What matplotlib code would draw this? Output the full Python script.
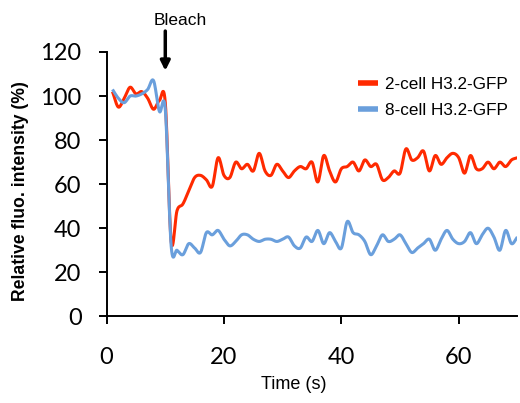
import matplotlib.pyplot as plt
import numpy as np

# FRAP recovery curves, one point per second
time = np.arange(1, 71)
two_cell = [102, 95, 99, 104, 101, 102, 99, 94, 98, 97,
            34, 48, 51, 57, 63, 64, 62, 59, 72, 64,
            63, 70, 67, 69, 66, 74, 66, 64, 69, 66,
            63, 66, 68, 67, 70, 61, 73, 66, 61, 67,
            68, 70, 66, 71, 68, 69, 62, 63, 66, 65,
            76, 71, 72, 75, 66, 73, 69, 72, 74, 72,
            65, 73, 67, 67, 70, 67, 70, 68, 71, 72]
eight_cell = [103, 99, 97, 100, 100, 101, 103, 107, 93, 94,
              32, 30, 28, 33, 31, 29, 38, 37, 39, 35,
              32, 34, 37, 37, 35, 34, 35, 35, 34, 35,
              36, 32, 31, 36, 34, 39, 33, 38, 34, 31,
              43, 38, 37, 34, 28, 32, 37, 34, 35, 37,
              33, 29, 31, 33, 35, 30, 35, 39, 35, 33,
              34, 38, 33, 37, 40, 36, 30, 39, 33, 36]
series_names = ['2-cell H3.2-GFP', '8-cell H3.2-GFP']
colors = ['#ff2a00', '#6a9fdc']
xticks = [0, 20, 40, 60]
yticks = [0, 20, 40, 60, 80, 100, 120]
bleach_time = 10


def smooth(x, y, n=12):
    """Catmull-Rom through the points (like Excel's smoothed line)"""
    x = np.asarray(x, float)
    y = np.asarray(y, float)
    px = np.concatenate([[2 * x[0] - x[1]], x, [2 * x[-1] - x[-2]]])
    py = np.concatenate([[2 * y[0] - y[1]], y, [2 * y[-1] - y[-2]]])
    s = np.linspace(0, 1, n, endpoint=False)
    xs, ys = [], []
    for i in range(1, len(px) - 2):
        for p, out in ((px, xs), (py, ys)):
            p0, p1, p2, p3 = p[i - 1], p[i], p[i + 1], p[i + 2]
            out.extend(0.5 * (2 * p1 + (-p0 + p2) * s
                              + (2 * p0 - 5 * p1 + 4 * p2 - p3) * s ** 2
                              + (-p0 + 3 * p1 - 3 * p2 + p3) * s ** 3))
    xs.append(x[-1])
    ys.append(y[-1])
    return np.array(xs), np.array(ys)


fig = plt.figure(figsize=(5.2, 4.03), dpi=100)
ax = fig.add_axes([0.205, 0.215, 0.79, 0.656])

for vals, name, c in zip([two_cell, eight_cell], series_names, colors):
    sx, sy = smooth(time, vals)
    ax.plot(sx, sy, color=c, lw=2.2, label=name, solid_capstyle='butt')

ax.set_xlim(0, 70)
ax.set_ylim(0, 120)
ax.set_xticks(xticks)
ax.set_yticks(yticks)
for side in ['top', 'right']:
    ax.spines[side].set_visible(False)
for side in ['left', 'bottom']:
    ax.spines[side].set_linewidth(1.4)
ax.tick_params(axis='both', direction='out', length=6, width=1.4,
               labelsize=17)
ax.tick_params(axis='x', pad=16)
ax.tick_params(axis='y', pad=12)
for lab in ax.get_xticklabels() + ax.get_yticklabels():
    lab.set_family('Lato')

ax.set_xlabel('Time (s)', family='Liberation Sans', fontsize=13)
ax.xaxis.set_label_coords(0.456, -0.225)
ax.set_ylabel('Relative fluo. intensity (%)', family='Liberation Sans',
              fontsize=12.7, fontweight='bold')
ax.yaxis.set_label_coords(-0.19, 0.475)

# bleach marker: arrow at the bleach time, label sitting a little to the right
ax.annotate('', xy=(bleach_time, 111.5), xytext=(bleach_time, 129.5),
            annotation_clip=False,
            arrowprops=dict(arrowstyle='-|>', color='black', lw=2.5,
                            mutation_scale=14, shrinkA=0, shrinkB=0))
ax.text(bleach_time + 2.6, 131, 'Bleach', ha='center', va='bottom',
        fontsize=12.5, family='Liberation Sans', clip_on=False)

leg = ax.legend(loc='upper right', bbox_to_anchor=(1.015, 0.965), frameon=False,
                prop={'family': 'Liberation Sans', 'size': 12.3},
                handlelength=1.2, handletextpad=0.4, labelspacing=0.65)
for h in leg.get_lines():
    h.set_linewidth(4)

fig.savefig('out.png', dpi=100)
